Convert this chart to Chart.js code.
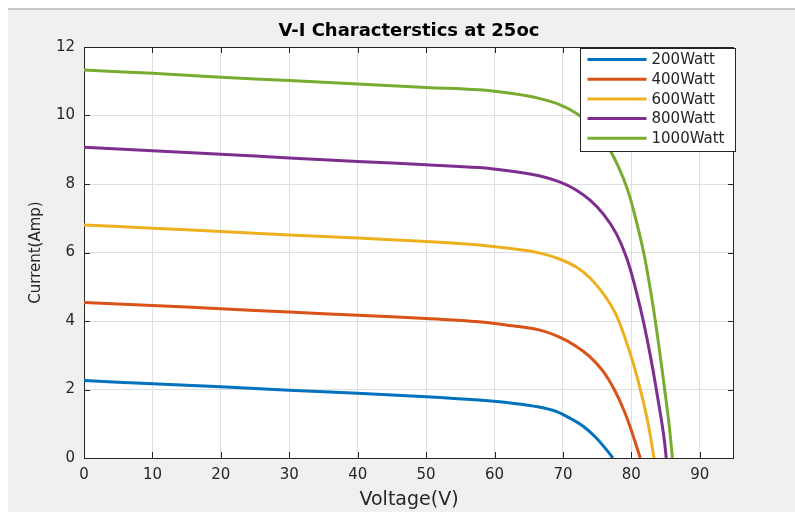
<!DOCTYPE html>
<html>
<head>
<meta charset="utf-8">
<title>V-I Characterstics at 25oc</title>
<script src="https://cdn.jsdelivr.net/npm/chart.js@4.4.1/dist/chart.umd.min.js"></script>
<style>
  body { margin: 0; background: #ffffff; }
  canvas { display: block; }
</style>
</head>
<body>
<canvas id="viChart" width="795" height="512"></canvas>
<script>
// data
const seriesLabels = ['200Watt', '400Watt', '600Watt', '800Watt', '1000Watt'];

const voltage200 = [0, 10, 20, 30, 40, 50, 57.7, 62.6, 66.5, 69, 71.3, 73, 74.7, 76.2, 77.3];
const current200 = [2.26, 2.17, 2.08, 1.98, 1.89, 1.79, 1.69, 1.60, 1.49, 1.36, 1.13, 0.92, 0.62, 0.28, 0];

const voltage400 = [0, 10, 20, 30, 40, 50, 57.7, 62.6, 66.5, 69.5, 71.8, 73.8, 75.8, 77.5, 79.0, 80.3, 81.3];
const current400 = [4.54, 4.45, 4.36, 4.26, 4.17, 4.07, 3.98, 3.86, 3.74, 3.53, 3.28, 2.98, 2.55, 2.00, 1.35, 0.62, 0];

const voltage600 = [0, 10, 20, 30, 40, 50, 57.7, 62.6, 66.5, 69.5, 72, 74, 76, 77.6, 79, 80.3, 81.5, 82.5, 83.3];
const current600 = [6.80, 6.71, 6.61, 6.51, 6.42, 6.32, 6.22, 6.11, 5.99, 5.81, 5.57, 5.25, 4.77, 4.25, 3.55, 2.75, 1.85, 0.95, 0];

const voltage800 = [0, 10, 20, 30, 40, 50, 57.7, 62.6, 66.5, 69.5, 71.8, 74, 76, 77.8, 79.3, 80.6, 81.8, 82.9, 83.9, 84.7, 85.1];
const current800 = [9.07, 8.97, 8.87, 8.76, 8.66, 8.56, 8.48, 8.37, 8.24, 8.06, 7.84, 7.52, 7.10, 6.55, 5.85, 4.95, 3.95, 2.85, 1.70, 0.70, 0];

const voltage1000 = [0, 10, 20, 30, 40, 50, 57.7, 62.6, 66.5, 69.5, 72, 74.3, 76.3, 78, 79.5, 80.8, 81.9, 83, 84, 84.9, 85.5, 86.0];
const current1000 = [11.33, 11.23, 11.12, 11.02, 10.92, 10.82, 10.75, 10.64, 10.50, 10.32, 10.06, 9.68, 9.18, 8.55, 7.80, 6.85, 5.90, 4.65, 3.30, 1.95, 1.00, 0];

const voltageTicks = [0, 10, 20, 30, 40, 50, 60, 70, 80, 90];
const currentTicks = [0, 2, 4, 6, 8, 10, 12];

// colours (matlab default order)
const lineColors = ['#0072BD', '#D95319', '#EDB120', '#7E2F8E', '#77AC30'];

const voltages = [voltage200, voltage400, voltage600, voltage800, voltage1000];
const currents = [current200, current400, current600, current800, current1000];

const textColor = '#262626';
Chart.defaults.font.family = "'DejaVu Sans', 'Liberation Sans', sans-serif";
Chart.defaults.color = textColor;

// grey figure with white plot box
const figureBackground = {
  id: 'figureBackground',
  beforeDraw(chart) {
    const { ctx, chartArea: a, width, height } = chart;
    ctx.save();
    ctx.fillStyle = '#ffffff';
    ctx.fillRect(0, 0, width, height);
    ctx.fillStyle = '#f0f0f0';
    ctx.fillRect(8, 10, width - 8, height - 10);
    ctx.fillStyle = '#c8c8c8';
    ctx.fillRect(8, 8, width - 8, 2);
    ctx.fillStyle = '#ffffff';
    ctx.fillRect(a.left, a.top, a.right - a.left, a.bottom - a.top);
    ctx.restore();
  }
};

// box round the axes + inward ticks
const axesBox = {
  id: 'axesBox',
  beforeDatasetsDraw(chart) {
    const { ctx, chartArea: a, scales } = chart;
    const tick = 6;
    ctx.save();
    ctx.strokeStyle = textColor;
    ctx.lineWidth = 1;
    ctx.beginPath();
    scales.x.ticks.forEach(t => {
      const px = Math.round(scales.x.getPixelForValue(t.value)) + 0.5;
      ctx.moveTo(px, a.bottom);
      ctx.lineTo(px, a.bottom - tick);
      ctx.moveTo(px, a.top);
      ctx.lineTo(px, a.top + tick);
    });
    scales.y.ticks.forEach(t => {
      const py = Math.round(scales.y.getPixelForValue(t.value)) + 0.5;
      ctx.moveTo(a.left, py);
      ctx.lineTo(a.left + tick, py);
      ctx.moveTo(a.right, py);
      ctx.lineTo(a.right - tick, py);
    });
    ctx.stroke();
    ctx.strokeRect(Math.round(a.left) + 0.5, Math.round(a.top) + 0.5,
      Math.round(a.right - a.left) - 1, Math.round(a.bottom - a.top));
    ctx.restore();
  }
};

// legend box in the top right corner
const boxLegend = {
  id: 'boxLegend',
  afterDatasetsDraw(chart) {
    const { ctx, chartArea: a } = chart;
    const w = 155, h = 103;
    const left = Math.round(a.right) - 154 + 0.5;
    const top = Math.round(a.top) + 1 + 0.5;
    ctx.save();
    ctx.fillStyle = '#ffffff';
    ctx.fillRect(left, top, w, h);
    ctx.strokeStyle = textColor;
    ctx.lineWidth = 1;
    ctx.strokeRect(left, top, w, h);
    ctx.font = "15px 'DejaVu Sans', sans-serif";
    ctx.textBaseline = 'middle';
    chart.data.datasets.forEach((ds, i) => {
      const yy = top + 11 + i * 19.7;
      ctx.strokeStyle = ds.borderColor;
      ctx.lineWidth = 3;
      ctx.beginPath();
      ctx.moveTo(left + 7, yy);
      ctx.lineTo(left + 66, yy);
      ctx.stroke();
      ctx.fillStyle = textColor;
      ctx.fillText(ds.label, left + 71, yy + 1);
    });
    ctx.restore();
  }
};

const datasets = seriesLabels.map((label, i) => ({
  label: label,
  data: voltages[i].map((v, j) => ({ x: v, y: currents[i][j] })),
  borderColor: lineColors[i],
  backgroundColor: lineColors[i],
  borderWidth: 3,
  pointRadius: 0,
  showLine: true,
  tension: 0.4
}));

new Chart(document.getElementById('viChart'), {
  type: 'scatter',
  data: { datasets: datasets },
  plugins: [figureBackground, axesBox, boxLegend],
  options: {
    responsive: false,
    animation: false,
    layout: { padding: { top: 0, left: 0, right: 61, bottom: 0 } },
    plugins: {
      legend: { display: false },
      tooltip: { enabled: false },
      title: {
        display: true,
        text: 'V-I Characterstics at 25oc',
        color: '#000000',
        fullSize: false,
        font: { size: 18, weight: 'bold' },
        padding: { top: 21, bottom: 4.4 }
      }
    },
    scales: {
      x: {
        type: 'linear',
        min: 0,
        max: 95,
        afterBuildTicks: scale => {
          scale.ticks = voltageTicks.map(v => ({ value: v }));
        },
        afterFit: scale => { scale.height = 54; },
        ticks: { padding: 8, font: { size: 15 }, color: textColor },
        grid: { color: '#dfdfdf', drawTicks: false },
        border: { display: false },
        title: {
          display: true,
          text: 'Voltage(V)',
          color: textColor,
          font: { size: 19 },
          padding: { top: 0, bottom: 1 }
        }
      },
      y: {
        type: 'linear',
        min: 0,
        max: 12,
        afterBuildTicks: scale => {
          scale.ticks = currentTicks.map(v => ({ value: v }));
        },
        afterFit: scale => { scale.width = 84; },
        ticks: { padding: 9, font: { size: 15 }, color: textColor },
        grid: { color: '#dfdfdf', drawTicks: false },
        border: { display: false },
        title: {
          display: true,
          text: 'Current(Amp)',
          color: textColor,
          font: { size: 15 },
          padding: { top: 27, bottom: 0 }
        }
      }
    }
  }
});
</script>
</body>
</html>
